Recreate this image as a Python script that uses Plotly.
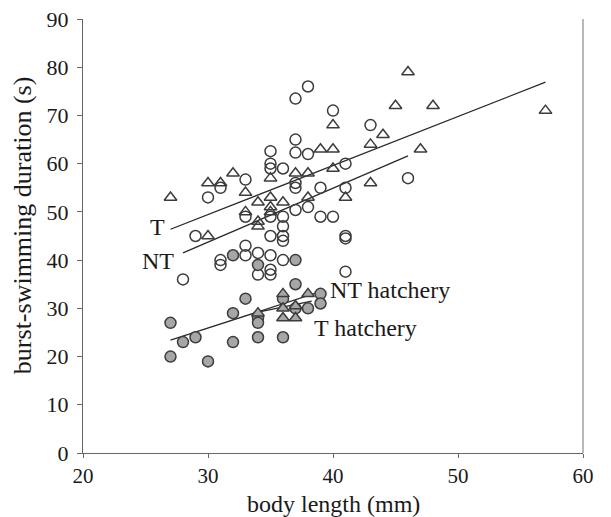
import plotly.graph_objects as go

# Wild T (open triangles)
t_x = [27, 30, 30, 31, 32, 33, 33, 34, 34, 34, 35, 35, 35, 35, 36, 37, 38, 38, 39, 40, 40, 40, 41, 43, 43, 44, 45, 46, 47, 48, 57]
t_y = [53, 56, 45, 56, 58, 54, 50, 52, 48, 47, 57, 53, 51, 50, 52, 58, 58, 53, 63, 63, 68, 59, 53, 64, 56, 66, 72, 79, 63, 72, 71]

# Wild NT (open circles)
nt_x = [28, 29, 30, 31, 31, 31, 33, 33, 33, 33, 34, 34, 35, 35, 35, 35, 35, 35, 35, 35, 36, 36, 36, 36, 36, 36,
        37, 37, 37, 37, 37, 37, 38, 38, 38, 39, 39, 40, 40, 41, 41, 41, 41, 41, 43, 46]
nt_y = [36, 45, 53, 55, 40, 39, 56.7, 49, 43, 41, 41.5, 37, 62.6, 60, 59, 49, 45, 41, 38, 37, 59, 49, 47, 45, 44, 40,
        73.5, 65, 62.3, 56, 55, 50.4, 76, 62, 51, 55, 49, 71, 49, 60, 55, 45, 44.5, 37.6, 68, 57]

# Hatchery NT (filled circles)
nth_x = [27, 27, 28, 29, 30, 32, 32, 32, 33, 34, 34, 34, 34, 36, 36, 37, 37, 37, 38, 39, 39]
nth_y = [27, 20, 23, 24, 19, 41, 29, 23, 32, 39, 28, 27, 24, 32, 24, 40, 35, 30, 30, 33, 31]

# Hatchery T (filled triangles)
th_x = [34, 36, 36, 36, 37, 37, 38]
th_y = [29, 33, 30, 28, 30.5, 28, 33]

# Regression line endpoints
fit_t_x = [27, 57]
fit_t_y = [46.4, 76.9]
fit_nt_x = [28, 46]
fit_nt_y = [41.5, 61.6]
fit_nth_x = [27, 39.3]
fit_nth_y = [23.4, 33.7]
fit_th_x = [34.2, 38.3]
fit_th_y = [29.3, 31.5]

x_ticks = [20, 30, 40, 50, 60]
y_ticks = [0, 10, 20, 30, 40, 50, 60, 70, 80, 90]

FONT = "Liberation Serif"
MK_LINE = "#3c3c3c"
FILL = "#a6a6a6"
TXT = "#1a1a1a"

fig = go.Figure()

for fx, fy in [(fit_t_x, fit_t_y), (fit_nt_x, fit_nt_y), (fit_nth_x, fit_nth_y), (fit_th_x, fit_th_y)]:
    fig.add_trace(go.Scatter(x=fx, y=fy, mode="lines", line=dict(color="#2a2a2a", width=1.3),
                             showlegend=False, hoverinfo="skip"))

fig.add_trace(go.Scatter(x=t_x, y=t_y, mode="markers", showlegend=False,
                         marker=dict(symbol="triangle-up-open", size=11, color=MK_LINE,
                                     line=dict(width=1.5, color=MK_LINE))))
fig.add_trace(go.Scatter(x=nt_x, y=nt_y, mode="markers", showlegend=False,
                         marker=dict(symbol="circle-open", size=11, color=MK_LINE,
                                     line=dict(width=1.5, color=MK_LINE))))
fig.add_trace(go.Scatter(x=nth_x, y=nth_y, mode="markers", showlegend=False,
                         marker=dict(symbol="circle", size=11, color=FILL,
                                     line=dict(width=1.5, color=MK_LINE))))
fig.add_trace(go.Scatter(x=th_x, y=th_y, mode="markers", showlegend=False,
                         marker=dict(symbol="triangle-up", size=11, color=FILL,
                                     line=dict(width=1.5, color=MK_LINE))))

ann_font = dict(family=FONT, size=24, color=TXT)
fig.add_annotation(x=26.7, y=46.8, text="T", showarrow=False, xanchor="right", font=ann_font)
fig.add_annotation(x=27.4, y=39.9, text="NT", showarrow=False, xanchor="right", font=ann_font)
fig.add_annotation(x=39.6, y=33.9, text="NT hatchery", showarrow=False, xanchor="left", font=ann_font)
fig.add_annotation(x=38.3, y=26.0, text="T hatchery", showarrow=False, xanchor="left", font=ann_font)

# axis titles as annotations for precise placement
fig.add_annotation(xref="paper", yref="paper", x=0.5, y=-0.118, text="body length (mm)",
                   showarrow=False, xanchor="center", yanchor="middle",
                   font=dict(family=FONT, size=24, color=TXT))
fig.add_annotation(xref="paper", yref="paper", x=-0.122, y=0.525, text="burst-swimming duration (s)",
                   showarrow=False, xanchor="center", yanchor="middle", textangle=-90,
                   font=dict(family=FONT, size=26, color=TXT))

# right border
fig.add_shape(type="line", xref="paper", yref="paper", x0=1, x1=1, y0=0, y1=1,
              line=dict(color="#8a8a8a", width=1.2))

fig.update_layout(
    width=603, height=509,
    margin=dict(l=75, r=28, t=11, b=64, autoexpand=False),
    paper_bgcolor="white", plot_bgcolor="white",
    font=dict(family=FONT, size=22, color=TXT),
)
fig.update_xaxes(range=[20, 60], tickvals=x_ticks, ticks="outside", ticklen=4, tickcolor="#666",
                 showline=True, linecolor="#666", linewidth=1.2, showgrid=False, zeroline=False,
                 automargin=False, ticklabeloverflow="allow",
                 tickfont=dict(family=FONT, size=21))
fig.update_yaxes(range=[0, 90], tickvals=y_ticks, ticks="outside", ticklen=5, tickcolor="#666",
                 showline=True, linecolor="#666", linewidth=1.2, showgrid=False, zeroline=False,
                 automargin=False, ticklabeloverflow="allow", ticklabelstandoff=4,
                 tickfont=dict(family=FONT, size=22))

fig.write_html("out.html")
